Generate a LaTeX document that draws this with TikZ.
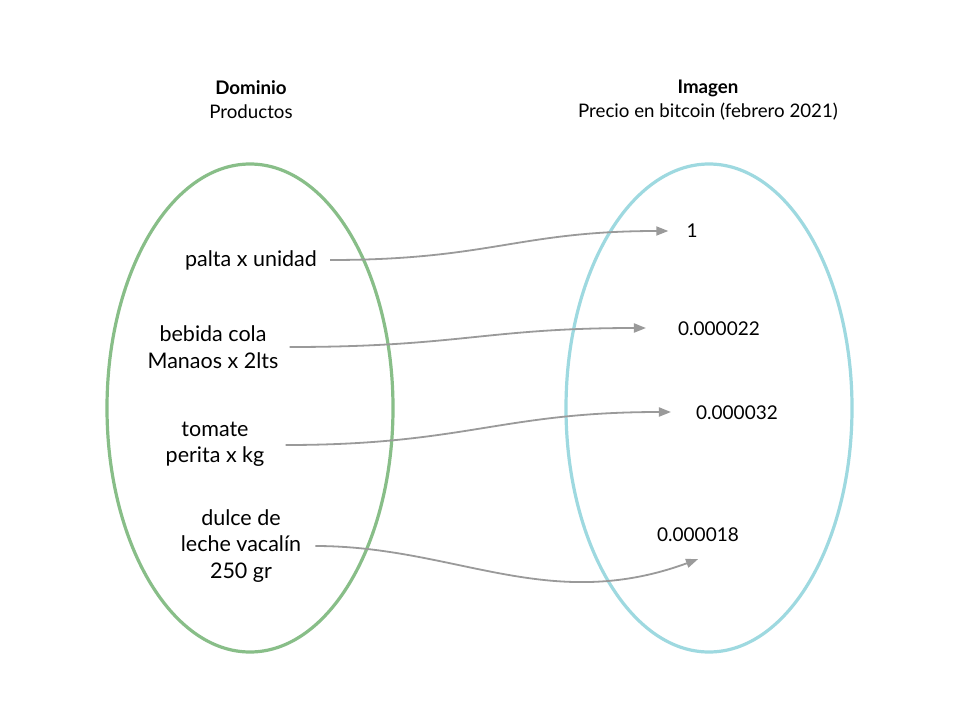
\documentclass[tikz,border=0pt]{standalone}
\usepackage{fontspec}
\setmainfont{Lato}
\usetikzlibrary{arrows.meta,shapes.geometric}
\definecolor{dgreen}{HTML}{88BE88}
\definecolor{icyan}{HTML}{9ED9E0}
\definecolor{arrgray}{HTML}{9A9A9A}
\begin{document}
\begin{tikzpicture}[x=1pt,y=-1pt,
  item/.style={font=\fontsize{21.5}{26.5}\selectfont, align=center, inner sep=0pt, text=black},
  val/.style={font=\fontsize{19}{22}\selectfont, align=center, inner sep=0pt, text=black},
  head/.style={font=\fontsize{18.7}{24}\selectfont, align=center, inner sep=0pt},
  setell/.style={line width=3.2pt, ellipse, minimum width=286pt, minimum height=488pt, inner sep=0pt},
  arr/.style={draw=arrgray, line width=1.8pt, -{Triangle[length=12pt,width=9pt]}}]
\useasboundingbox (0,0) rectangle (960,720);
\fill[white] (0,0) rectangle (960,720);
% sets
\node[setell, draw=dgreen] (dom) at (250,408) {};
\node[setell, draw=icyan] (img) at (709,408) {};
% headers
\node[head] (domt) at (251,100) {\textbf{Dominio}\\Productos};
\node[head] (imgt) at (708,100) {\textbf{Imagen}\\Precio en bitcoin (febrero 2021)};
% domain items
\node[item] (palta) at (251,260) {palta x unidad};
\node[item] (bebida) at (213,347) {bebida cola\\Manaos x 2lts};
\node[item] (tomate) at (215,444) {tomate\\perita x kg};
\node[item] (dulce) at (241,546) {dulce de\\leche vacalín\\250 gr};
% image items
\node[val] (v1) at (692,231) {1};
\node[val] (v2) at (719,329) {0.000022};
\node[val] (v3) at (737,413) {0.000032};
\node[val] (v4) at (698,535) {0.000018};
% arrows
\draw[arr] ([xshift=13pt]palta.east) .. controls +(160,0) and +(-150,0) .. ([xshift=-18pt]v1.west);
\draw[arr] ([xshift=11pt]bebida.east) .. controls +(170,0) and +(-160,0) .. ([xshift=-32pt,yshift=1pt]v2.west);
\draw[arr] ([xshift=21pt,yshift=-1pt]tomate.east) .. controls +(180,0) and +(-170,0) .. ([xshift=-25pt,yshift=1pt]v3.west);
\draw[arr] ([xshift=14pt]dulce.east) .. controls +(140,0) and +(-150,55) .. ([yshift=-17pt]v4.south);
\end{tikzpicture}
\end{document}
